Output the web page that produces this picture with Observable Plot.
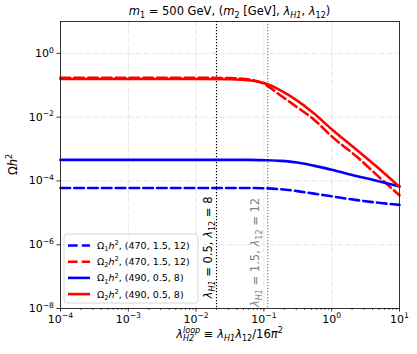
<!DOCTYPE html>
<html><head><meta charset="utf-8">
<script src="https://cdn.jsdelivr.net/npm/d3@7"></script>
<script src="https://cdn.jsdelivr.net/npm/@observablehq/plot@0.6"></script>
<style>body{margin:0;background:#fff} svg{display:block}</style>
</head><body><div id="chart"></div>
<script>
// ---- data ----
const xVals = [1e-4, 1e-2, 0.032, 0.063, 0.1, 0.176, 0.31, 0.544, 1, 2.38, 5.25, 10];
const omega1_470 = [6.0e-5, 6.0e-5, 6.0e-5, 6.0e-5, 5.9e-5, 5.5e-5, 4.8e-5, 4.0e-5, 3.3e-5, 2.5e-5, 2.04e-5, 1.78e-5];
const omega2_470 = [0.172, 0.172, 0.168, 0.151, 0.112, 0.048, 0.0204, 0.0085, 0.0025, 5.6e-4, 1.2e-4, 3.55e-5];
const omega1_490 = [4.57e-4, 4.57e-4, 4.57e-4, 4.57e-4, 4.47e-4, 4.27e-4, 3.8e-4, 3.02e-4, 2.24e-4, 1.41e-4, 9.5e-5, 6.8e-5];
const omega2_490 = [0.158, 0.158, 0.155, 0.141, 0.117, 0.069, 0.033, 0.0132, 0.00417, 9.1e-4, 2.19e-4, 6.5e-5];
const seriesValues = [omega1_470, omega2_470, omega1_490, omega2_490];
const seriesOmega = ["1", "2", "1", "2"];
const seriesParams = ["(470, 1.5, 12)", "(470, 1.5, 12)", "(490, 0.5, 8)", "(490, 0.5, 8)"];
const seriesColors = ["#0000ff", "#ff0000", "#0000ff", "#ff0000"];
const seriesDashed = [true, true, false, false];
const benchX = [0.02, 0.114];
const benchLH1 = ["0.5", "1.5"];
const benchL12 = ["8", "12"];
const benchColors = ["#000000", "#808080"];
const benchTextY = [2.0e-8, 1.07e-8];
const xTicks = [1e-4, 1e-3, 1e-2, 1e-1, 1, 10];
const yTicks = [1e-8, 1e-6, 1e-4, 1e-2, 1];
const xMinor = [];
for (let e = -4; e < 1; e++) for (let m = 2; m <= 9; m++) xMinor.push(m * Math.pow(10, e));

// ---- layout ----
const W = 417, H = 354, mL = 60, mR = 18, mT = 21, mB = 46;
const FONT = "DejaVu Sans";
const rows = seriesValues.flatMap((s, i) => xVals.map((x, j) => ({x, y: s[j], k: i})));
const gridStyle = {stroke: "#b0b0b0", strokeOpacity: 0.45, strokeWidth: 0.8, strokeDasharray: "5,1.3,0.8,1.3"};

const marks = [
  Plot.gridX(xTicks.slice(1, -1), gridStyle),
  Plot.gridY(yTicks.slice(1), gridStyle),
  Plot.axisX({ticks: xMinor, tickSize: 2, tickFormat: () => "", label: null, strokeWidth: 0.6}),
  Plot.axisX({ticks: xTicks, tickSize: 3.5, tickPadding: 3, tickFormat: d => "10^" + Math.round(Math.log10(d)), label: null, fontSize: 11, strokeWidth: 0.8}),
  Plot.axisY({ticks: yTicks, tickSize: 3.5, tickPadding: 3, tickFormat: d => "10^" + Math.round(Math.log10(d)), label: null, fontSize: 11, strokeWidth: 0.8}),
  Plot.ruleX([benchX[0]], {stroke: benchColors[0], strokeWidth: 1.2, strokeDasharray: "1.2,1.8"}),
  Plot.ruleX([benchX[1]], {stroke: benchColors[1], strokeWidth: 1.2, strokeDasharray: "1.2,1.8"})
];
seriesValues.forEach((s, i) => {
  marks.push(Plot.line(rows.filter(r => r.k === i), {
    x: "x", y: "y", stroke: seriesColors[i], strokeWidth: 2.6,
    strokeDasharray: seriesDashed[i] ? "9.6,4.2" : null, curve: "monotone-x"
  }));
});
marks.push(Plot.frame({stroke: "black", strokeWidth: 0.8}));

const plot = Plot.plot({
  width: W, height: H, marginLeft: mL, marginRight: mR, marginTop: mT, marginBottom: mB,
  style: {fontFamily: FONT, fontSize: "11px", background: "white", color: "black", overflow: "visible"},
  x: {type: "log", domain: [1e-4, 10]},
  y: {type: "log", domain: [1e-8, 10]},
  marks
});
document.getElementById("chart").appendChild(plot);
const svg = d3.select(plot);
const sx = plot.scale("x"), sy = plot.scale("y");

// rich text helper: parts = [[text, flags]] flags: i italic, b sub, p sup, k stack under previous
function rich(textSel, parts, fs) {
  let cur = 0, prev = null, pendingDx = 0;
  for (const [t, f = ""] of parts) {
    const small = f.includes("b") || f.includes("p");
    const shift = f.includes("b") ? fs * 0.24 : f.includes("p") ? -fs * 0.4 : 0;
    const ts = textSel.append("tspan").text(t).attr("font-size", small ? fs * 0.7 : fs).attr("dy", shift - cur);
    if (f.includes("i")) ts.attr("font-style", "italic");
    if (f.includes("k") && prev) {
      const pw = prev.node().getComputedTextLength();
      ts.attr("dx", -pw);
      const w = ts.node().getComputedTextLength();
      pendingDx = Math.max(0, pw - w);
    } else if (pendingDx) {
      ts.attr("dx", pendingDx);
      pendingDx = 0;
    }
    cur = shift; prev = ts;
  }
}

// tick labels -> 10 with superscript exponents
svg.selectAll('g[aria-label="x-axis tick label"] text, g[aria-label="y-axis tick label"] text').each(function() {
  const s = this.textContent;
  if (!s.startsWith("10^")) return;
  const e = s.slice(3).replace("-", "\u2212");
  const t = d3.select(this);
  t.text(null);
  rich(t, [["10"], [e, "p"]], 11);
});

// title
const cx = (mL + W - mR) / 2;
rich(svg.append("text").attr("x", cx).attr("y", 15).attr("text-anchor", "middle").attr("font-family", FONT).attr("fill", "black"),
  [["m", "i"], ["1", "b"], [" = 500 GeV, ("], ["m", "i"], ["2", "b"], [" [GeV], "], ["λ", "i"], ["H1", "bi"], [", "], ["λ", "i"], ["12", "b"], [")"]], 11.5);

// axis labels
rich(svg.append("text").attr("x", cx).attr("y", 338).attr("text-anchor", "middle").attr("font-family", FONT).attr("fill", "black"),
  [["λ", "i"], ["loop", "pi"], ["H2", "bik"], [" ≡ "], ["λ", "i"], ["H1", "bi"], ["λ", "i"], ["12", "b"], ["/16"], ["π", "i"], ["2", "p"]], 11.5);
rich(svg.append("text").attr("transform", `translate(17,${(mT + H - mB) / 2}) rotate(-90)`).attr("text-anchor", "middle").attr("font-family", FONT).attr("fill", "black"),
  [["Ω"], ["h", "i"], ["2", "p"]], 11.5);

// benchmark annotations
const benchDx = [-4, -8];
benchX.forEach((bx, i) => {
  const px = sx.apply(bx) + benchDx[i], py = sy.apply(benchTextY[i]);
  rich(svg.append("text").attr("transform", `translate(${px},${py}) rotate(-90)`).attr("text-anchor", "start").attr("font-family", FONT).attr("fill", benchColors[i]),
    [["λ", "i"], ["H1", "bi"], [" = " + benchLH1[i] + ", "], ["λ", "i"], ["12", "b"], [" = " + benchL12[i]]], 11.5);
});

// legend
const lg = svg.append("g");
const lx = 64, ly = 234, lw = 134, lh = 69;
lg.append("rect").attr("x", lx).attr("y", ly).attr("width", lw).attr("height", lh).attr("rx", 3)
  .attr("fill", "white").attr("fill-opacity", 0.8).attr("stroke", "#cccccc").attr("stroke-width", 0.8);
seriesValues.forEach((s, i) => {
  const yy = ly + 11.5 + i * 16.2;
  lg.append("line").attr("x1", lx + 4).attr("x2", lx + 26).attr("y1", yy).attr("y2", yy)
    .attr("stroke", seriesColors[i]).attr("stroke-width", 2.6).attr("stroke-dasharray", seriesDashed[i] ? "9.6,4.2" : null);
  rich(lg.append("text").attr("x", lx + 33).attr("y", yy + 3.5).attr("text-anchor", "start").attr("font-family", FONT).attr("fill", "black"),
    [["Ω"], [seriesOmega[i], "b"], ["h", "i"], ["2", "p"], [", " + seriesParams[i]]], 9.5);
});
</script>
</body></html>
